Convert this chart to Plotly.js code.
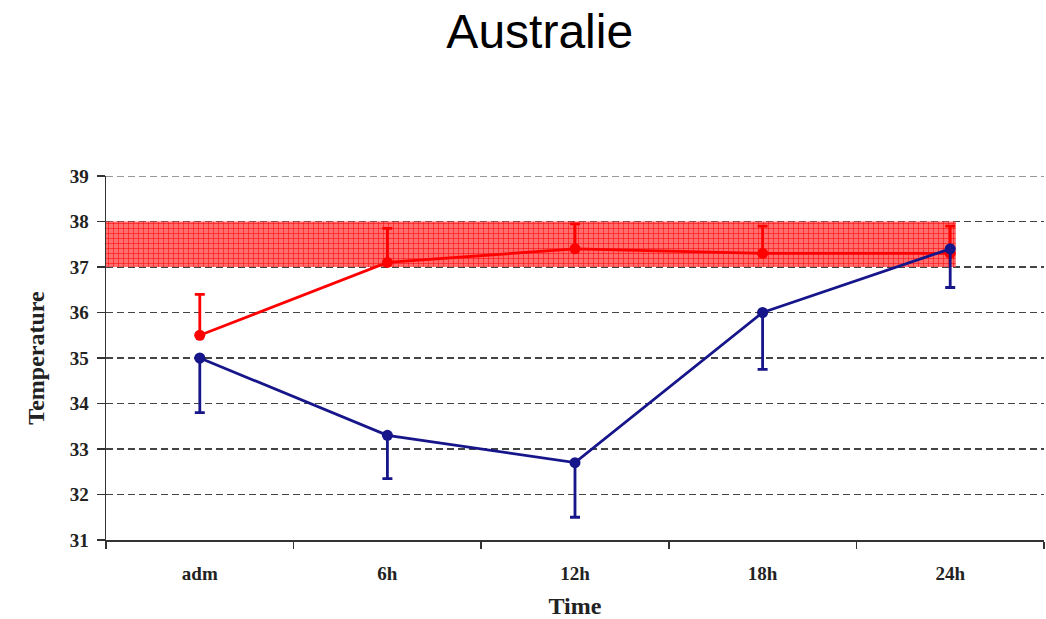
<!DOCTYPE html>
<html>
<head>
<meta charset="utf-8">
<script src="https://cdn.plot.ly/plotly-3.0.1.min.js"></script>
<style>html,body{margin:0;padding:0;background:#fff;}#chart{width:1046px;height:619px;}</style>
</head>
<body>
<div id="chart"></div>
<script>
const categories = ["adm", "6h", "12h", "18h", "24h"];
const redValues = [35.5, 37.1, 37.4, 37.3, 37.3];
const redErrorPlus = [0.9, 0.75, 0.55, 0.6, 0.6];
const blueValues = [35.0, 33.3, 32.7, 36.0, 37.4];
const blueErrorMinus = [1.2, 0.95, 1.2, 1.25, 0.85];
const bandLow = 37;
const bandHigh = 38;
const bandStart = -0.5;
const bandEnd = 4.03;
const yTicks = [31, 32, 33, 34, 35, 36, 37, 38, 39];

const idx = categories.map((c, i) => i);
const serif = 'Liberation Serif, Times New Roman, serif';

const band = {
  x: [bandStart, bandEnd, bandEnd, bandStart, bandStart],
  y: [bandLow, bandLow, bandHigh, bandHigh, bandLow],
  type: 'scatter', mode: 'lines', fill: 'toself',
  line: {width: 0, color: 'rgba(0,0,0,0)'},
  fillcolor: 'rgba(255,90,90,0.9)',
  fillpattern: {shape: '+', fgcolor: 'rgba(255,0,0,1)', bgcolor: 'rgba(255,95,95,0.9)', size: 5, solidity: 0.2},
  hoverinfo: 'skip', showlegend: false
};

const red = {
  x: idx, y: redValues, type: 'scatter', mode: 'lines+markers',
  line: {color: '#ff0000', width: 2.8},
  marker: {color: '#ff0000', size: 11},
  error_y: {type: 'data', symmetric: false, array: redErrorPlus, arrayminus: redErrorPlus.map(() => 0), color: '#ff0000', thickness: 2.8, width: 5},
  showlegend: false
};

const blue = {
  x: idx, y: blueValues, type: 'scatter', mode: 'lines+markers',
  line: {color: '#16168a', width: 2.8},
  marker: {color: '#16168a', size: 11},
  error_y: {type: 'data', symmetric: false, array: blueValues.map(() => 0), arrayminus: blueErrorMinus, color: '#16168a', thickness: 2.8, width: 5},
  showlegend: false
};

const layout = {
  width: 1046, height: 619,
  margin: {l: 106, r: 2, t: 176, b: 79},
  paper_bgcolor: '#ffffff', plot_bgcolor: '#ffffff',
  title: {text: 'Australie', font: {family: 'Liberation Sans, Arial, sans-serif', size: 48, color: '#000'}, x: 0.516, xanchor: 'center', y: 0.95, yanchor: 'middle', xref: 'container', yref: 'container'},
  xaxis: {
    range: [-0.5, 4.5], tickmode: 'array', tickvals: idx, ticktext: categories.map(c => '<b>' + c + '</b>'),
    ticks: '', showgrid: false, zeroline: false,
    showline: true, linecolor: '#333', linewidth: 1.5,
    ticklabelstandoff: 16,
    tickfont: {family: serif, size: 19, color: '#222'},
    minor: {tickmode: 'linear', tick0: -0.5, dtick: 1, ticks: 'outside', ticklen: 7, tickcolor: '#333', tickwidth: 1.5, showgrid: false},
    title: {text: '<b>Time</b>', font: {family: serif, size: 24, color: '#222'}, standoff: 20}
  },
  yaxis: {
    range: [31, 39], tickmode: 'array', tickvals: yTicks, ticktext: yTicks.map(v => '<b>' + v + '</b>'),
    ticks: 'outside', ticklen: 8, tickcolor: '#333', tickwidth: 1.5,
    ticklabelstandoff: 4,
    showgrid: true, gridcolor: '#444', griddash: '7px,4px', gridwidth: 1.2,
    zeroline: false, showline: true, linecolor: '#333', linewidth: 1.5,
    tickfont: {family: serif, size: 19, color: '#222'},
    title: {text: '<b>Temperature</b>', font: {family: serif, size: 24, color: '#222'}, standoff: 18}
  },
  shapes: [{type: 'line', xref: 'paper', x0: 0, x1: 1, yref: 'y', y0: yTicks[yTicks.length - 1], y1: yTicks[yTicks.length - 1], line: {color: '#333', width: 1.2, dash: '7px,4px'}, layer: 'below'}],
  showlegend: false
};

Plotly.newPlot('chart', [band, red, blue], layout, {displayModeBar: false, staticPlot: true});
</script>
</body>
</html>
